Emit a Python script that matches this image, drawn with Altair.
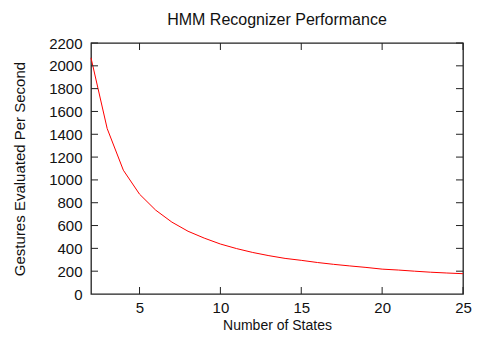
import altair as alt
import pandas as pd

states = list(range(2, 26))
rate = [2070, 1450, 1085, 875, 735, 630, 550, 490, 438, 398, 364, 336, 312, 295,
        276, 260, 246, 233, 218, 210, 200, 191, 184, 178]

x_ticks = [5, 10, 15, 20, 25]
y_ticks = [200, 400, 600, 800, 1000, 1200, 1400, 1600, 1800, 2000, 2200]

W, H = 372, 251
TL = 7
FONT = "Liberation Sans"

df = pd.DataFrame({"n": states, "v": rate})
xt = pd.DataFrame({"t": x_ticks})
yt = pd.DataFrame({"t": y_ticks})

xs = alt.Scale(domain=[2, 25], nice=False, zero=False)
ys = alt.Scale(domain=[0, 2200], nice=False)

x_axis = alt.Axis(values=x_ticks, ticks=False, grid=False, labelPadding=6,
                  titlePadding=14, titleBaseline="alphabetic", titleFontSize=14,
                  domain=False, format="d", labelFlush=False, labelOverlap=False)
y_axis = alt.Axis(values=[0] + y_ticks, ticks=False, grid=False, labelPadding=9,
                  titlePadding=21, domain=False, format="d",
                  labelFlush=False, labelOverlap=False)
XT = "Number of States"
YT = "Gestures Evaluated Per Second"

line = alt.Chart(df).mark_line(color="#ff0000", strokeWidth=1).encode(
    x=alt.X("n:Q", scale=xs, title=XT, axis=x_axis),
    y=alt.Y("v:Q", scale=ys, title=YT, axis=y_axis),
)

tick_color = "#222222"
bottom = alt.Chart(xt).mark_rule(color=tick_color, strokeWidth=1).encode(
    x=alt.X("t:Q", scale=xs, title=XT, axis=x_axis), y=alt.value(H), y2=alt.value(H - TL))
top = alt.Chart(xt).mark_rule(color=tick_color, strokeWidth=1).encode(
    x=alt.X("t:Q", scale=xs, title=XT, axis=x_axis), y=alt.value(0), y2=alt.value(TL))
left = alt.Chart(yt).mark_rule(color=tick_color, strokeWidth=1).encode(
    y=alt.Y("t:Q", scale=ys, title=YT, axis=y_axis), x=alt.value(0), x2=alt.value(TL))
right = alt.Chart(yt).mark_rule(color=tick_color, strokeWidth=1).encode(
    y=alt.Y("t:Q", scale=ys, title=YT, axis=y_axis), x=alt.value(W), x2=alt.value(W - TL))

chart = alt.layer(line, bottom, top, left, right).properties(
    width=W, height=H,
    title=alt.TitleParams("HMM Recognizer Performance", fontSize=16, font=FONT,
                          fontWeight="normal", color="#111111", offset=8),
    autosize=alt.AutoSizeParams(type="none"),
    padding={"left": 83, "top": 35, "right": 11, "bottom": 39},
).configure_view(
    stroke="#222222", strokeWidth=1.3
).configure_axis(
    labelFont=FONT, titleFont=FONT, labelFontSize=15, titleFontSize=15,
    titleFontWeight="normal", labelColor="#111111", titleColor="#111111"
)

chart.save("out.html", embed_options={"renderer": "svg", "actions": False})
